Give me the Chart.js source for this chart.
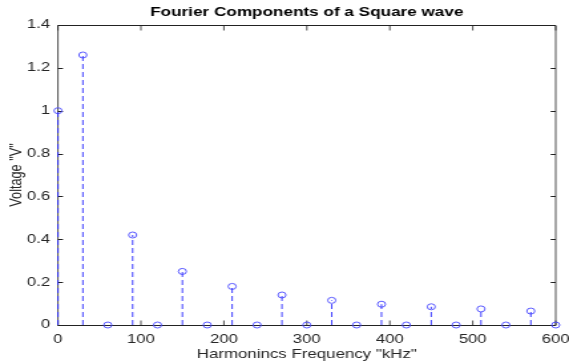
<!DOCTYPE html>
<html>
<head>
<meta charset="utf-8">
<script src="https://cdn.jsdelivr.net/npm/chart.js@4.4.0/dist/chart.umd.min.js"></script>
<style>
  html, body { margin: 0; padding: 0; background: #fff; overflow: hidden; }
  /* the reference is a horizontally stretched matlab figure, so stretch the canvas the same way */
  #stemChart { transform: scaleX(1.3294); transform-origin: 0 0; }
</style>
</head>
<body>
<canvas id="stemChart" width="428" height="362"></canvas>
<script>
// Harmonic frequencies (kHz) and their amplitudes (V)
const frequencies = [0, 30, 60, 90, 120, 150, 180, 210, 240, 270, 300, 330, 360, 390, 420, 450, 480, 510, 540, 570, 600];
const amplitudes = [1, 1.26, 0, 0.42, 0, 0.25, 0, 0.18, 0, 0.14, 0, 0.115, 0, 0.097, 0, 0.085, 0, 0.075, 0, 0.065, 0];
const xTicks = [0, 100, 200, 300, 400, 500, 600];
const yTicks = [0, 0.2, 0.4, 0.6, 0.8, 1, 1.2, 1.4];
const chartTitle = 'Fourier Components of a Square wave';

const textColor = '#262626';
const stemColor = '#2a2aff';
const markerColor = '#4a4aff';
const fontFamily = 'Liberation Sans, Arial, sans-serif';

// stems: one broken line, each stem goes from 0 up to its value
const stemData = [];
frequencies.forEach((f, i) => {
    stemData.push({ x: f, y: 0 });
    stemData.push({ x: f, y: amplitudes[i] });
    stemData.push({ x: f, y: null });
});
const markerData = frequencies.map((f, i) => ({ x: f, y: amplitudes[i] }));

// box around the axes with inward ticks, like matlab
const boxTicks = {
    id: 'boxTicks',
    beforeDatasetsDraw(chart) {
        const { ctx, chartArea: a, scales } = chart;
        const top = Math.round(a.top) + 0.5;
        const bottom = Math.round(a.bottom) + 0.5;
        ctx.save();
        ctx.strokeStyle = '#222';
        // horizontal edges + y ticks
        ctx.lineWidth = 1;
        ctx.beginPath();
        ctx.moveTo(a.left, top); ctx.lineTo(a.right, top);
        ctx.moveTo(a.left, bottom); ctx.lineTo(a.right, bottom);
        yTicks.forEach(v => {
            const py = Math.round(scales.y.getPixelForValue(v)) + 0.5;
            ctx.moveTo(a.left, py); ctx.lineTo(a.left + 3.8, py);
            ctx.moveTo(a.right, py); ctx.lineTo(a.right - 3.8, py);
        });
        ctx.stroke();
        // vertical edges + x ticks (thinner, the canvas is stretched sideways)
        ctx.lineWidth = 0.8;
        ctx.beginPath();
        ctx.moveTo(a.left, top); ctx.lineTo(a.left, bottom);
        ctx.moveTo(a.right, top); ctx.lineTo(a.right, bottom);
        xTicks.forEach(v => {
            const px = scales.x.getPixelForValue(v);
            ctx.moveTo(px, bottom); ctx.lineTo(px, bottom - 5);
            ctx.moveTo(px, top); ctx.lineTo(px, top + 5);
        });
        ctx.stroke();
        ctx.restore();
    },
    // title centred over the axes, not over the whole canvas
    afterDraw(chart) {
        const { ctx, chartArea: a } = chart;
        ctx.save();
        ctx.font = 'bold 12.9px ' + fontFamily;
        ctx.fillStyle = '#000';
        ctx.textAlign = 'center';
        ctx.textBaseline = 'middle';
        ctx.fillText(chartTitle, (a.left + a.right) / 2, 12.5);
        ctx.restore();
    }
};

const ctx = document.getElementById('stemChart').getContext('2d');
new Chart(ctx, {
    type: 'scatter',
    data: {
        datasets: [{
            label: 'stems',
            data: stemData,
            showLine: true,
            spanGaps: false,
            borderColor: stemColor,
            borderWidth: 0.9,
            borderDash: [5, 3],
            pointRadius: 0,
            pointHoverRadius: 0,
            clip: false
        }, {
            label: 'amplitude',
            data: markerData,
            showLine: false,
            pointStyle: 'circle',
            pointRadius: 3,
            pointBorderWidth: 0.9,
            pointBorderColor: markerColor,
            pointBackgroundColor: 'rgba(0,0,0,0)',
            clip: false
        }]
    },
    options: {
        responsive: false,
        devicePixelRatio: 1,
        animation: false,
        layout: { padding: { top: 25, right: 10, left: 0, bottom: 0 } },
        plugins: {
            legend: { display: false },
            tooltip: { enabled: false },
            title: { display: false }
        },
        scales: {
            x: {
                type: 'linear',
                min: 0,
                max: 600,
                afterFit: s => { s.height = 37; s.paddingLeft = 0; s.paddingRight = 0; },
                afterBuildTicks: s => { s.ticks = xTicks.map(v => ({ value: v })); },
                grid: { display: false, drawTicks: false },
                border: { display: false },
                ticks: {
                    color: textColor,
                    padding: 7,
                    maxRotation: 0,
                    font: { family: fontFamily, size: 12.5 }
                },
                title: {
                    display: true,
                    text: 'Harmonincs Frequency "kHz"',
                    color: textColor,
                    padding: { top: 0, bottom: 0 },
                    font: { family: fontFamily, size: 12.7 }
                }
            },
            y: {
                type: 'linear',
                min: 0,
                max: 1.4,
                afterFit: s => { s.width = 43.6; s.paddingTop = 0; s.paddingBottom = 0; },
                afterBuildTicks: s => { s.ticks = yTicks.map(v => ({ value: v })); },
                grid: { display: false, drawTicks: false },
                border: { display: false },
                ticks: {
                    color: textColor,
                    padding: 6,
                    font: { family: fontFamily, size: 12.5 },
                    callback: v => String(v)
                },
                title: {
                    display: true,
                    text: 'Voltage "V"',
                    color: textColor,
                    padding: { top: 5, bottom: 0 },
                    font: { family: fontFamily, size: 12.7 }
                }
            }
        }
    },
    plugins: [boxTicks]
});
</script>
</body>
</html>
